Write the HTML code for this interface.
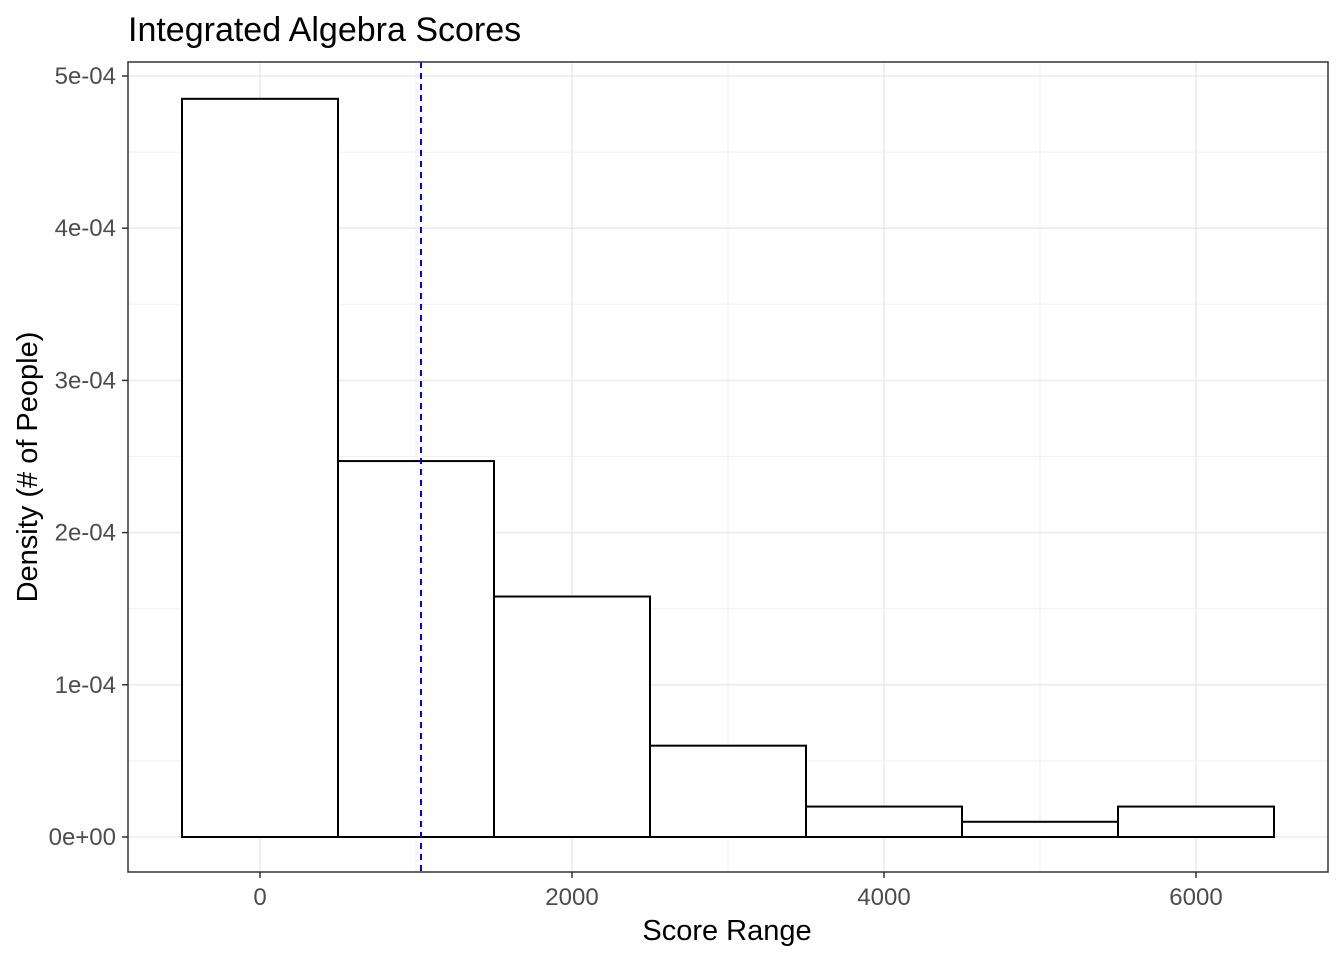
<!DOCTYPE html>
<html><head><meta charset="utf-8"><style>
body{margin:0;background:#fff;}
svg text{font-family:"Liberation Sans",Arial,sans-serif;}
</style></head><body>
<svg id="chart" width="1344" height="960" xmlns="http://www.w3.org/2000/svg">
<text x="128" y="41" font-size="34" fill="#000">Integrated Algebra Scores</text>
<g id="grid"></g>
<g id="bars"></g>
<g id="axes"></g>
<text x="727" y="940" font-size="29" text-anchor="middle" fill="#000">Score Range</text>
<text transform="translate(37,467) rotate(-90)" font-size="29" text-anchor="middle" fill="#000">Density (# of People)</text>
</svg>
<script>
const binCenters = [0, 1000, 2000, 3000, 4000, 5000, 6000];
const densities = [4.85e-4, 2.47e-4, 1.58e-4, 0.6e-4, 0.2e-4, 0.1e-4, 0.2e-4];
const binWidth = 1000;
const meanScore = 1032;
const xTicks = [0, 2000, 4000, 6000];
const xTickLabels = ["0", "2000", "4000", "6000"];
const yTicks = [0, 1e-4, 2e-4, 3e-4, 4e-4, 5e-4];
const yTickLabels = ["0e+00", "1e-04", "2e-04", "3e-04", "4e-04", "5e-04"];

const L=128,R=1328,T=62,B=872;
const xs = v => 260 + v*0.156;
const ys = v => 837 - v*1.522e6;
const NS="http://www.w3.org/2000/svg";
function mk(tag, attrs, parent){const e=document.createElementNS(NS,tag);for(const k in attrs)e.setAttribute(k,attrs[k]);parent.appendChild(e);return e;}
const grid=document.getElementById('grid'), bars=document.getElementById('bars'), axes=document.getElementById('axes');

for(let i=0;i<xTicks.length+1;i++){const v=xTicks[0]-1000+i*2000; const x=xs(v);
 if(x>L&&x<R){const g=mk('line',{x1:x,x2:x,y1:T,y2:B,stroke:'#f2f2f2','stroke-width':1},grid);
 
 }}
for(let i=0;i<yTicks.length-1;i++){const y=ys((yTicks[i]+yTicks[i+1])/2);
 const g=mk('line',{x1:L,x2:R,y1:y,y2:y,stroke:'#f2f2f2','stroke-width':1},grid);
 
 }
xTicks.forEach(v=>{const x=xs(v);const g=mk('line',{x1:x,x2:x,y1:T,y2:B,stroke:'#ebebeb','stroke-width':1.6},grid);
 
 });
yTicks.forEach(v=>{const y=ys(v);const g=mk('line',{x1:L,x2:R,y1:y,y2:y,stroke:'#ebebeb','stroke-width':1.6},grid);
 
 });

binCenters.forEach((c,i)=>{const x0=xs(c-binWidth/2),x1=xs(c+binWidth/2),y=ys(densities[i]);
 const r=mk('rect',{x:x0,y:y,width:x1-x0,height:ys(0)-y,fill:'#fff',stroke:'#000','stroke-width':2},bars);
 
 });

const ml=mk('line',{x1:xs(meanScore),x2:xs(meanScore),y1:T,y2:B,stroke:'#0000ff','stroke-width':2,'stroke-dasharray':'6,5'},bars);



const fr=mk('rect',{x:L,y:T,width:R-L,height:B-T,fill:'none',stroke:'#333','stroke-width':1.5},axes);



xTicks.forEach((v,i)=>{const x=xs(v);
 const t=mk('line',{x1:x,x2:x,y1:B,y2:B+6,stroke:'#333','stroke-width':1.5},axes);
 
 
 const l=mk('text',{x:x,y:B+33,'font-size':24,'text-anchor':'middle',fill:'#4d4d4d'},axes);l.textContent=xTickLabels[i];
 
 });
yTicks.forEach((v,i)=>{const y=ys(v);
 const t=mk('line',{x1:L-6,x2:L,y1:y,y2:y,stroke:'#333','stroke-width':1.5},axes);
 
 
 const l=mk('text',{x:L-12,y:y+8,'font-size':24,'text-anchor':'end',fill:'#4d4d4d'},axes);l.textContent=yTickLabels[i];
 
 });
</script>
</body></html>
